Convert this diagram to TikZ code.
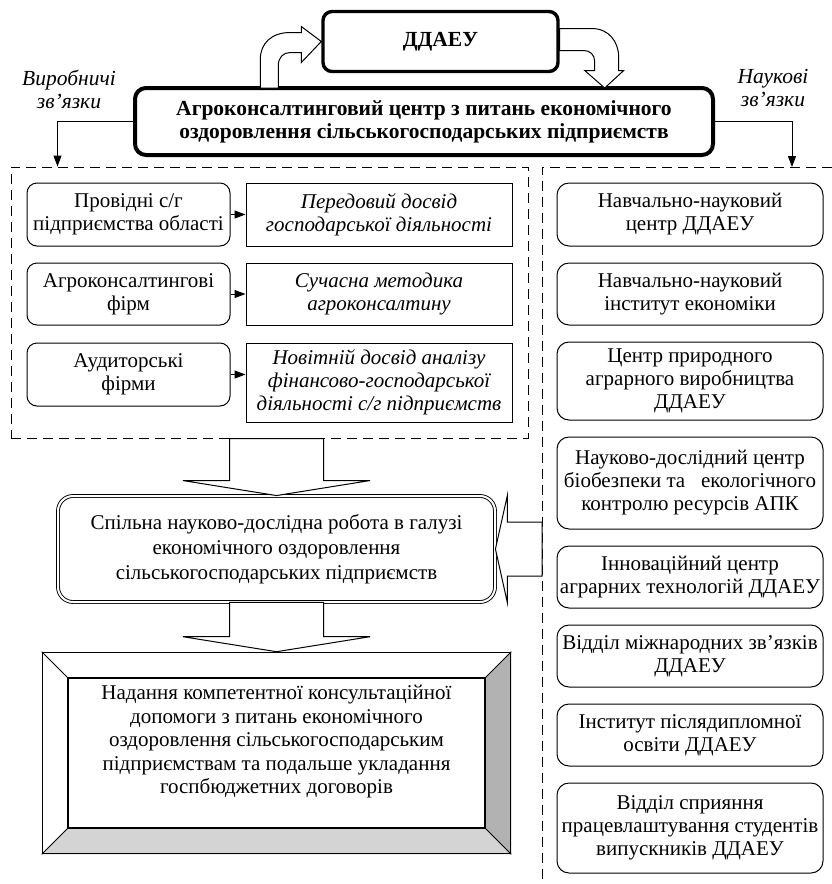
\documentclass[tikz,border=0pt]{standalone}
\usepackage{fontspec}
\setmainfont{Liberation Serif}
\usetikzlibrary{arrows.meta, positioning, fit, calc, backgrounds}

\begin{document}
\begin{tikzpicture}[x=1pt, y=-1pt,
  txt/.style={align=center, font=\fontsize{21}{23}\selectfont, inner sep=0pt},
  topbox/.style={txt, draw, line width=3.4pt, rounded corners=9pt, font=\fontsize{21.5}{23}\selectfont\bfseries},
  firm/.style={txt, draw, line width=1pt, rounded corners=10pt, minimum width=203pt, minimum height=63pt},
  gain/.style={txt, draw, line width=1pt, minimum width=266pt, minimum height=63pt, font=\fontsize{21}{23}\selectfont\itshape},
  dept/.style={txt, draw, line width=1pt, rounded corners=12pt, minimum width=266pt, minimum height=62pt},
  dashframe/.style={draw, line width=1pt, dash pattern=on 10pt off 6pt},
  joint/.style={txt, draw, double, double distance=2pt, line width=0.9pt, rounded corners=15pt, minimum width=437pt, minimum height=106pt, font=\fontsize{21}{25}\selectfont},
  arrow/.style={-{Triangle[length=11pt, width=8pt]}, line width=1pt},
  blockarr/.style={draw, fill=white, line width=1pt, line join=miter},
  note/.style={align=center, font=\fontsize{21.5}{23}\selectfont\itshape, inner sep=0pt}
]
  \useasboundingbox (0,0) rectangle (832,884);

  % Top
  \node[topbox, minimum width=235pt, minimum height=60pt] (ddaeu) at (440.5,41.5) {ДДАЕУ};
  \node[topbox, line width=4pt, rounded corners=11pt, minimum width=578pt, minimum height=67pt] (agro) at (424,121.5)
    {Агроконсалтинговий центр з питань економічного\\оздоровлення сільськогосподарських підприємств};
  \node[note] (prodlab) at (69,89.5) {Виробничі\\зв’язки};
  \node[note] (scilab) at (773,88.5) {Наукові\\зв’язки};

  \begin{scope}[shift={(ddaeu.west)}]
    \draw[blockarr] (0,0) -- (-20,-15) -- (-20,-9) -- (-31,-9)
      .. controls (-50,-9) and (-61,2) .. (-61,18) -- (-61,46.5) -- (-43,46.5) -- (-43,24)
      .. controls (-43,16) and (-38,11) .. (-31,11) -- (-20,11) -- (-20,21) -- cycle;
  \end{scope}
  \begin{scope}[shift={(ddaeu.east)}]
    \draw[blockarr] (0,-13) -- (32,-13) .. controls (49,-13) and (59,0) .. (59,16) -- (59,29) -- (64,29)
      -- (45,46.5) -- (25,29) -- (35,29) -- (35,20) .. controls (35,13) and (30,9) .. (24,9) -- (0,9) -- cycle;
  \end{scope}

  % Left (production links)
  \node[firm] (lead) at (128.5,214.5) {Провідні с/г\\підприємства області};
  \node[gain, right=15pt of lead] (best) {Передовий досвід\\господарської діяльності};
  \node[firm, minimum height=62pt, below=16pt of lead] (agfirm) {Агроконсалтингові\\фірм};
  \node[gain, minimum height=62pt, right=15pt of agfirm] (method) {Сучасна методика\\агроконсалтину};
  \node[firm, below=17pt of agfirm] (audit) {Аудиторські\\фірми};
  \node[gain, minimum height=79pt, anchor=north west] (newexp) at ([xshift=15pt]audit.north east)
    {Новітній досвід аналізу\\фінансово-господарської\\діяльності с/г підприємств};
  \draw[arrow] (lead) -- (best);
  \draw[arrow] (agfirm) -- (method);
  \draw[arrow] (audit.east) -- (audit.east -| newexp.west);
  \node[dashframe, fit=(lead)(newexp), inner sep=15.5pt] (lframe) {};

  % Right (science links)
  \coordinate (rtop) at (542,167);
  \draw[dashframe] (832,167) -- (rtop) -- (542,882);
  \node[dept, minimum height=63pt] (cen) at (690,214.5) {Навчально-науковий\\центр ДДАЕУ};
  \node[dept, below=16pt of cen] (econ) {Навчально-науковий\\інститут економіки};
  \node[dept, minimum height=78pt, below=16pt of econ] (nat) {Центр природного\\аграрного виробництва\\ДДАЕУ};
  \node[dept, minimum height=92pt, below=16pt of nat] (bio) {Науково-дослідний центр\\біобезпеки та \ \ екологічного\\контролю ресурсів АПК};
  \node[dept, below=16pt of bio] (innov) {Інноваційний центр\\аграрних технологій ДДАЕУ};
  \node[dept, below=16pt of innov] (intl) {Відділ міжнародних зв’язків\\ДДАЕУ};
  \node[dept, below=16pt of intl] (post) {Інститут післядипломної\\освіти ДДАЕУ};
  \node[dept, minimum height=90pt, below=16pt of post] (job) {Відділ сприяння\\працевлаштування студентів\\випускників ДДАЕУ};

  \draw[arrow] (agro.west) -| ([xshift=47pt]lframe.north west);
  \draw[arrow] (agro.east) -| ([xshift=250pt]rtop);

  % Joint work and result
  \node[joint] (spil) at (276.5,549) {Спільна науково-дослідна робота в галузі\\економічного оздоровлення\\сільськогосподарських підприємств};
  \node[draw, line width=1.6pt, minimum width=468pt, minimum height=201pt] (res) at (276.5,753) {};
  \node[draw, line width=1.3pt, minimum width=417pt, minimum height=150pt] (resin) at (res.center) {};
  \node[txt, font=\fontsize{21}{23.5}\selectfont] (restxt) at ([yshift=11pt]res.center)
    {Надання компетентної консультаційної\\допомоги з питань економічного\\оздоровлення сільськогосподарським\\підприємствам та подальше укладання\\госпбюджетних договорів};
  \begin{scope}[on background layer]
    \fill[black!17] (res.south west) -- (res.south east) -- (resin.south east) -- (resin.south west) -- cycle;
    \fill[black!30] (res.south east) -- (res.north east) -- (resin.north east) -- (resin.south east) -- cycle;
  \end{scope}
  \draw[line width=1pt] (res.north west) -- (resin.north west);
  \draw[line width=1pt] (res.north east) -- (resin.north east);
  \draw[line width=1pt] (res.south west) -- (resin.south west);
  \draw[line width=1pt] (res.south east) -- (resin.south east);

  \draw[blockarr] (spil.north) -- ++(-93.5,-15) -- ++(46.5,0) coordinate (dl) -- (dl |- lframe.south)
    -- ++(94,0) coordinate (dr) -- (dr |- dl) -- ++(46.5,0) -- cycle;
  \draw[blockarr] (res.north) -- ++(-93.5,-15) -- ++(46.5,0) coordinate (el) -- (el |- spil.south)
    -- ++(94,0) coordinate (er) -- (er |- el) -- ++(46.5,0) -- cycle;
  \draw[blockarr] (spil.east) -- ++(12,-54) -- ++(0,27) coordinate (hl) -- (hl -| rtop)
    -- ++(0,54) coordinate (hr) -- (hr -| hl) -- ++(0,27) -- cycle;

\end{tikzpicture}
\end{document}
